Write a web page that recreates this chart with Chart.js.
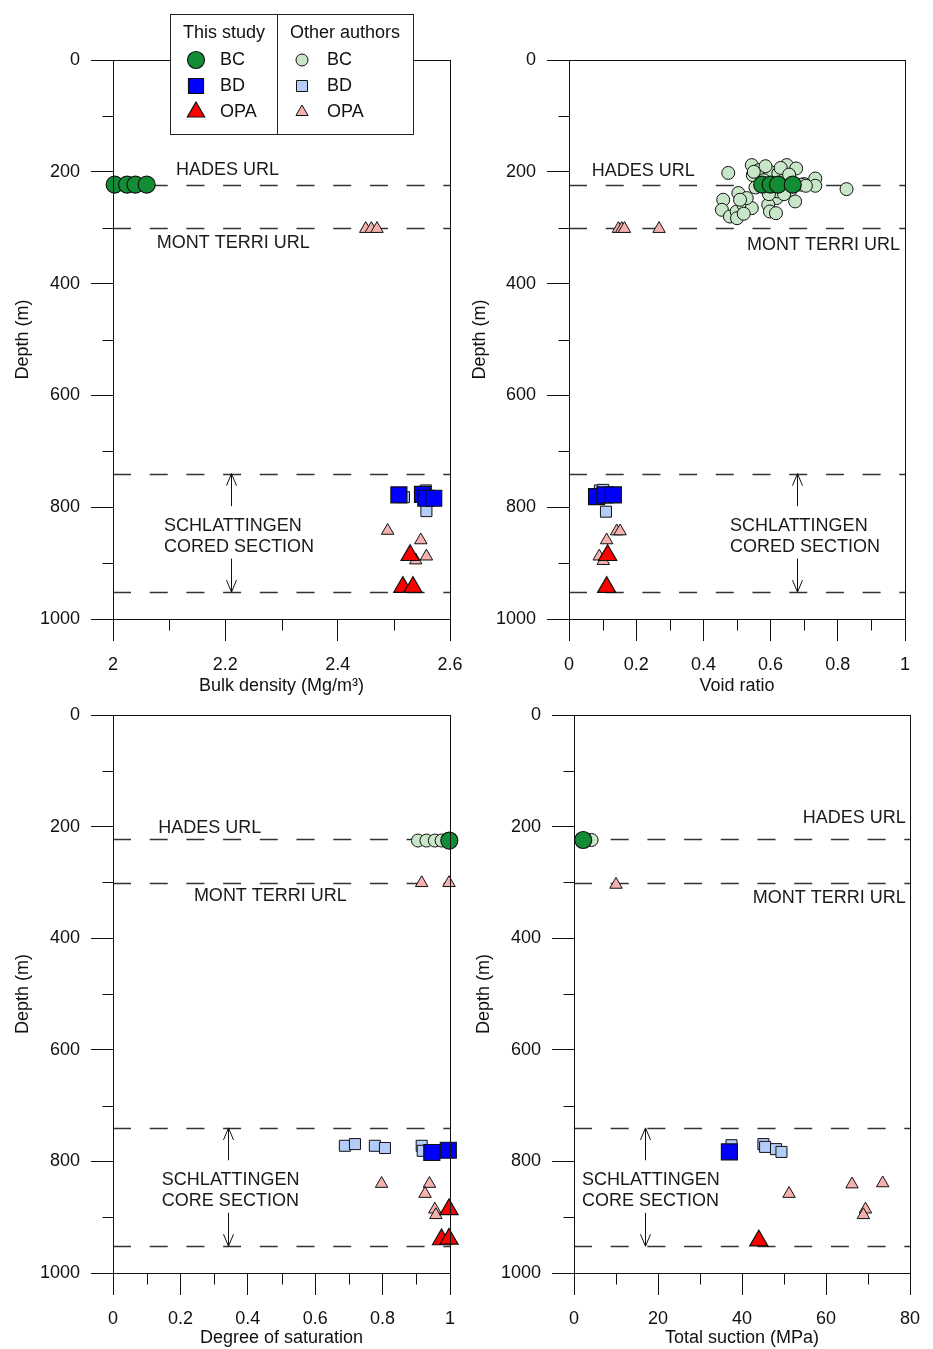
<!DOCTYPE html>
<html>
<head>
<meta charset="utf-8">
<title>Depth profiles: bulk density, void ratio, degree of saturation, total suction</title>
<script src="https://cdn.jsdelivr.net/npm/chart.js@4/dist/chart.umd.min.js"></script>
<style>
  html, body { margin: 0; padding: 0; background: #fff; }
  #wrap { position: relative; width: 933px; height: 1349px; }
  canvas { position: absolute; }
</style>
</head>
<body>
<div id="wrap">
  <canvas id="cDensity" width="466" height="700" style="left:0;top:0"></canvas>
  <canvas id="cVoid" width="467" height="700" style="left:466px;top:0"></canvas>
  <canvas id="cSat" width="466" height="649" style="left:0;top:700px"></canvas>
  <canvas id="cSuction" width="467" height="649" style="left:466px;top:700px"></canvas>
</div>
<script>
// ---- Reference levels (depth, m) ----
const depthHades = 223;
const depthMontTerri = 301;
const depthSchlTop = 740;
const depthSchlBottom = 952;

// ---- Bulk density (Mg/m3): [value, depth] ----
const densStudyBC  = [[2.003, 223], [2.025, 223], [2.040, 223], [2.060, 223]];
const densStudyBD  = [[2.509, 778], [2.551, 777], [2.557, 784], [2.571, 784]];
const densStudyOPA = [[2.529, 886], [2.516, 943], [2.534, 943]];
const densOtherBC  = [];
const densOtherBD  = [[2.518, 782], [2.557, 770], [2.558, 807], [2.548, 776]];
const densOtherOPA = [[2.450, 302], [2.460, 302], [2.470, 302], [2.489, 842], [2.548, 859], [2.558, 888], [2.539, 895]];

// ---- Void ratio: [value, depth] ----
const voidStudyBC  = [[0.575, 223], [0.600, 223], [0.622, 223], [0.666, 223]];
const voidStudyBD  = [[0.082, 781], [0.107, 778], [0.132, 778]];
const voidStudyOPA = [[0.115, 886], [0.112, 943]];
const voidOtherBC  = [
  [0.474, 202], [0.826, 231], [0.544, 188], [0.547, 206], [0.565, 197], [0.598, 200],
  [0.623, 203], [0.648, 188], [0.676, 194], [0.733, 212], [0.733, 225], [0.700, 222],
  [0.618, 247], [0.593, 259], [0.598, 271], [0.673, 253], [0.504, 238], [0.459, 250],
  [0.455, 268], [0.479, 280], [0.499, 271], [0.519, 259], [0.544, 265], [0.529, 247],
  [0.616, 274], [0.509, 250], [0.580, 215], [0.640, 215], [0.620, 235], [0.660, 232],
  [0.555, 228], [0.690, 223], [0.705, 225], [0.595, 240], [0.640, 240], [0.500, 283],
  [0.520, 275], [0.630, 193], [0.585, 190], [0.550, 200], [0.655, 205]
];
const voidOtherBD  = [[0.092, 770], [0.102, 769], [0.110, 808]];
const voidOtherOPA = [[0.147, 302], [0.157, 302], [0.165, 302], [0.268, 302], [0.142, 843], [0.152, 843], [0.112, 859], [0.090, 888], [0.102, 896]];

// ---- Degree of saturation: [value, depth] ----
const satStudyBC  = [[0.998, 225]];
const satStudyBD  = [[0.946, 784], [0.995, 780]];
const satStudyOPA = [[0.997, 886], [0.975, 940], [0.997, 939]];
const satOtherBC  = [[0.905, 225], [0.930, 225], [0.955, 225], [0.975, 225]];
const satOtherBD  = [[0.688, 772], [0.718, 769], [0.777, 772], [0.807, 776], [0.916, 772], [0.919, 781]];
const satOtherOPA = [[0.916, 301], [0.997, 301], [0.797, 840], [0.939, 840], [0.926, 858], [0.955, 886], [0.958, 896]];

// ---- Total suction (MPa): [value, depth] ----
const suctStudyBC  = [[2.2, 224]];
const suctStudyBD  = [[37.0, 783]];
const suctStudyOPA = [[44.0, 942]];
const suctOtherBC  = [[4.2, 224]];
const suctOtherBD  = [[37.5, 771], [45.1, 769], [45.5, 774], [48.1, 778], [49.4, 783]];
const suctOtherOPA = [[10.0, 304], [51.2, 858], [66.2, 841], [73.5, 839], [69.4, 886], [68.9, 896]];

// ---- Axis ticks ----
const depthTicks = { min: 0, max: 1000, step: 200, minor: 100 };

const FONT_FAMILY = '"Liberation Sans", Arial, Helvetica, sans-serif';
const FONT = '18px ' + FONT_FAMILY;
Chart.defaults.font.family = FONT_FAMILY;
Chart.defaults.font.size = 18;
Chart.defaults.color = '#111';

// Plain number labels: 2, 2.2, 1000 (no padding zeros, no grouping)
const plainLabel = v => String(Math.round(v * 1000) / 1000);

// Marker styles: this study (large, saturated) and other authors (small, pale)
const markerStyles = [
  { label: 'BC',  pointStyle: 'circle',   radius: 8.5,  bg: '#128D35', bw: 1.2, legendR: 8.5 },
  { label: 'BD',  pointStyle: 'rect',     radius: 11.3, bg: '#0000FF', bw: 1.2, legendR: 10.6 },
  { label: 'OPA', pointStyle: 'triangle', radius: 10.5, bg: '#FF0000', bw: 1.2, legendR: 10 },
  { label: 'BC',  pointStyle: 'circle',   radius: 6.5,  bg: '#C8E6C8', bw: 1,   legendR: 6 },
  { label: 'BD',  pointStyle: 'rect',     radius: 7.8,  bg: '#B4CCF8', bw: 1,   legendR: 7.8 },
  { label: 'OPA', pointStyle: 'triangle', radius: 7.2,  bg: '#F5B0B0', bw: 1,   legendR: 7 }
];

// Dashed levels, labels and arrows drawn behind markers; frame and minor ticks on top
const panelDeco = {
  id: 'panelDeco',
  beforeDatasetsDraw(chart, args, o) {
    const { ctx, chartArea: a, scales: { x, y } } = chart;
    ctx.save();
    ctx.strokeStyle = '#333';
    ctx.lineWidth = 1.3;
    ctx.setLineDash([18, 18.7]);
    o.levels.forEach(d => {
      const py = Math.round(y.getPixelForValue(d)) + 0.5;
      ctx.beginPath(); ctx.moveTo(a.left, py); ctx.lineTo(a.right, py); ctx.stroke();
    });
    ctx.setLineDash([]);
    ctx.fillStyle = '#1a1a1a';
    ctx.font = FONT;
    ctx.textBaseline = 'middle';
    o.labels.forEach(l => {
      ctx.textAlign = l.align;
      ctx.fillText(l.text, x.getPixelForValue(l.x), y.getPixelForValue(l.d));
    });
    ctx.strokeStyle = '#111';
    ctx.lineWidth = 1;
    o.arrows.forEach(ar => {
      const px = Math.round(x.getPixelForValue(ar.x)) + 0.5;
      const p0 = y.getPixelForValue(ar.from), p1 = y.getPixelForValue(ar.to);
      const s = p1 > p0 ? 1 : -1;
      ctx.beginPath(); ctx.moveTo(px, p0); ctx.lineTo(px, p1); ctx.stroke();
      ctx.beginPath();
      ctx.moveTo(px - 5, p1 - s * 12); ctx.lineTo(px, p1); ctx.lineTo(px + 5, p1 - s * 12);
      ctx.stroke();
    });
    ctx.restore();
  },
  afterDatasetsDraw(chart, args, o) {
    const { ctx, chartArea: a, scales: { x, y } } = chart;
    ctx.save();
    ctx.strokeStyle = '#111';
    ctx.lineWidth = 1;
    const L = Math.round(a.left) + 0.5, R = Math.round(a.right) + 0.5;
    const T = Math.round(a.top) + 0.5, B = Math.round(a.bottom) + 0.5;
    ctx.strokeRect(L, T, R - L, B - T);
    // minor ticks on x
    const xo = x.options;
    for (let v = xo.min + o.xMinor; v < xo.max - 1e-9; v += o.xMinor) {
      const r = (v - xo.min) / xo.ticks.stepSize;
      if (Math.abs(r - Math.round(r)) < 1e-6) continue;
      const px = Math.round(x.getPixelForValue(v)) + 0.5;
      ctx.beginPath(); ctx.moveTo(px, B); ctx.lineTo(px, B + 11); ctx.stroke();
    }
    // minor ticks on depth
    for (let v = depthTicks.minor; v < depthTicks.max; v += depthTicks.step) {
      const py = Math.round(y.getPixelForValue(v)) + 0.5;
      ctx.beginPath(); ctx.moveTo(L - 11, py); ctx.lineTo(L, py); ctx.stroke();
    }
    ctx.restore();
  }
};

// Two-column legend: "This study" / "Other authors"
const legendBox = {
  id: 'legendBox',
  afterDraw(chart, args, o) {
    if (!o.show) return;
    const ctx = chart.ctx;
    const bx = 170, by = 14, bw = 243, bh = 120, split = 277;
    ctx.save();
    ctx.fillStyle = '#fff';
    ctx.fillRect(bx, by, bw, bh);
    ctx.strokeStyle = '#222';
    ctx.lineWidth = 1;
    ctx.strokeRect(bx + 0.5, by + 0.5, bw, bh);
    ctx.beginPath(); ctx.moveTo(split + 0.5, by); ctx.lineTo(split + 0.5, by + bh); ctx.stroke();
    ctx.fillStyle = '#111';
    ctx.font = FONT;
    ctx.textBaseline = 'middle';
    ctx.textAlign = 'center';
    ctx.fillText('This study', 224, 33);
    ctx.fillText('Other authors', 345, 33);
    const rowsY = [60, 86, 112];
    chart.data.datasets.forEach((ds, i) => {
      const col = i < 3 ? 0 : 1;
      const sx = col === 0 ? 196 : 302;
      const tx = col === 0 ? 220 : 327;
      const yy = rowsY[i % 3];
      ctx.fillStyle = ds.backgroundColor;
      ctx.strokeStyle = ds.borderColor;
      ctx.lineWidth = ds.borderWidth;
      Chart.helpers.drawPoint(ctx, { pointStyle: ds.pointStyle, rotation: 0, radius: ds.legendR, borderWidth: ds.borderWidth }, sx, yy);
      ctx.fillStyle = '#111';
      ctx.textAlign = 'left';
      ctx.fillText(ds.label, tx, yy);
    });
    ctx.restore();
  }
};

function toPoints(arr) { return arr.map(([v, d]) => ({ x: v, y: d })); }

function makePanel(p) {
  const datasets = p.series.map((arr, i) => {
    const st = markerStyles[i];
    return {
      label: st.label,
      data: toPoints(arr),
      pointStyle: st.pointStyle,
      pointRadius: st.radius,
      pointHoverRadius: st.radius,
      backgroundColor: st.bg,
      borderColor: '#111',
      borderWidth: st.bw,
      legendR: st.legendR,
      showLine: false,
      clip: false,
      order: i < 3 ? 0 : 1
    };
  });
  return new Chart(document.getElementById(p.id), {
    type: 'scatter',
    data: { datasets },
    plugins: [panelDeco, legendBox],
    options: {
      responsive: false,
      animation: false,
      devicePixelRatio: 1,
      events: [],
      layout: { padding: p.pad },
      plugins: {
        legend: { display: false },
        tooltip: { enabled: false },
        panelDeco: {
          levels: [depthHades, depthMontTerri, depthSchlTop, depthSchlBottom],
          labels: p.labels,
          arrows: [
            { x: p.arrowX, from: 798, to: depthSchlTop },
            { x: p.arrowX, from: 892, to: depthSchlBottom }
          ],
          xMinor: p.xMinor
        },
        legendBox: { show: !!p.legend }
      },
      scales: {
        x: {
          type: 'linear',
          min: p.xMin, max: p.xMax,
          afterFit: s => { s.height = p.xHeight; s.paddingLeft = 0; s.paddingRight = 0; },
          ticks: { stepSize: p.xStep, color: '#111', padding: 13, maxRotation: 0, autoSkip: false, font: { size: 18 }, callback: plainLabel },
          grid: { drawOnChartArea: false, drawTicks: true, tickLength: 22, color: '#111', lineWidth: 1 },
          border: { display: false },
          title: { display: true, text: p.xTitle, color: '#111', font: { size: 18 }, padding: { top: 0, bottom: p.xTitlePad } }
        },
        y: {
          type: 'linear',
          reverse: true,
          min: depthTicks.min, max: depthTicks.max,
          afterFit: s => { s.width = p.yWidth; s.paddingTop = 0; s.paddingBottom = 0; },
          ticks: { stepSize: depthTicks.step, color: '#111', padding: 11, autoSkip: false, font: { size: 18 }, callback: plainLabel },
          grid: { drawOnChartArea: false, drawTicks: true, tickLength: 22, color: '#111', lineWidth: 1 },
          border: { display: false },
          title: { display: true, text: 'Depth (m)', color: '#111', font: { size: 18 }, padding: { top: p.yTitlePad, bottom: 0 } }
        }
      }
    }
  });
}

makePanel({
  id: 'cDensity', legend: true,
  xTitle: 'Bulk density (Mg/m³)', xMin: 2, xMax: 2.6, xStep: 0.2, xMinor: 0.1,
  pad: { left: 0, top: 60, right: 16, bottom: 0 }, yWidth: 113, xHeight: 81, yTitlePad: 12, xTitlePad: 3,
  series: [densStudyBC, densStudyBD, densStudyOPA, densOtherBC, densOtherBD, densOtherOPA],
  arrowX: 2.21,
  labels: [
    { text: 'HADES URL', x: 2.112, d: 197, align: 'left' },
    { text: 'MONT TERRI URL', x: 2.078, d: 327, align: 'left' },
    { text: 'SCHLATTINGEN', x: 2.091, d: 834, align: 'left' },
    { text: 'CORED SECTION', x: 2.091, d: 871, align: 'left' }
  ]
});

makePanel({
  id: 'cVoid',
  xTitle: 'Void ratio', xMin: 0, xMax: 1, xStep: 0.2, xMinor: 0.1,
  pad: { left: 0, top: 60, right: 28, bottom: 0 }, yWidth: 103, xHeight: 81, yTitlePad: 3, xTitlePad: 3,
  series: [voidStudyBC, voidStudyBD, voidStudyOPA, voidOtherBC, voidOtherBD, voidOtherOPA],
  arrowX: 0.679,
  labels: [
    { text: 'HADES URL', x: 0.068, d: 199, align: 'left' },
    { text: 'MONT TERRI URL', x: 0.985, d: 331, align: 'right' },
    { text: 'SCHLATTINGEN', x: 0.479, d: 834, align: 'left' },
    { text: 'CORED SECTION', x: 0.479, d: 871, align: 'left' }
  ]
});

makePanel({
  id: 'cSat',
  xTitle: 'Degree of saturation', xMin: 0, xMax: 1, xStep: 0.2, xMinor: 0.1,
  pad: { left: 0, top: 15, right: 16, bottom: 0 }, yWidth: 113, xHeight: 76, yTitlePad: 12, xTitlePad: 0,
  series: [satStudyBC, satStudyBD, satStudyOPA, satOtherBC, satOtherBD, satOtherOPA],
  arrowX: 0.341,
  labels: [
    { text: 'HADES URL', x: 0.134, d: 202, align: 'left' },
    { text: 'MONT TERRI URL', x: 0.240, d: 324, align: 'left' },
    { text: 'SCHLATTINGEN', x: 0.145, d: 834, align: 'left' },
    { text: 'CORE SECTION', x: 0.145, d: 871, align: 'left' }
  ]
});

makePanel({
  id: 'cSuction',
  xTitle: 'Total suction (MPa)', xMin: 0, xMax: 80, xStep: 20, xMinor: 10,
  pad: { left: 0, top: 15, right: 23, bottom: 0 }, yWidth: 108, xHeight: 76, yTitlePad: 7, xTitlePad: 0,
  series: [suctStudyBC, suctStudyBD, suctStudyOPA, suctOtherBC, suctOtherBD, suctOtherOPA],
  arrowX: 16.9,
  labels: [
    { text: 'HADES URL', x: 79.0, d: 185, align: 'right' },
    { text: 'MONT TERRI URL', x: 79.0, d: 328, align: 'right' },
    { text: 'SCHLATTINGEN', x: 1.9, d: 834, align: 'left' },
    { text: 'CORE SECTION', x: 1.9, d: 871, align: 'left' }
  ]
});
</script>
</body>
</html>
